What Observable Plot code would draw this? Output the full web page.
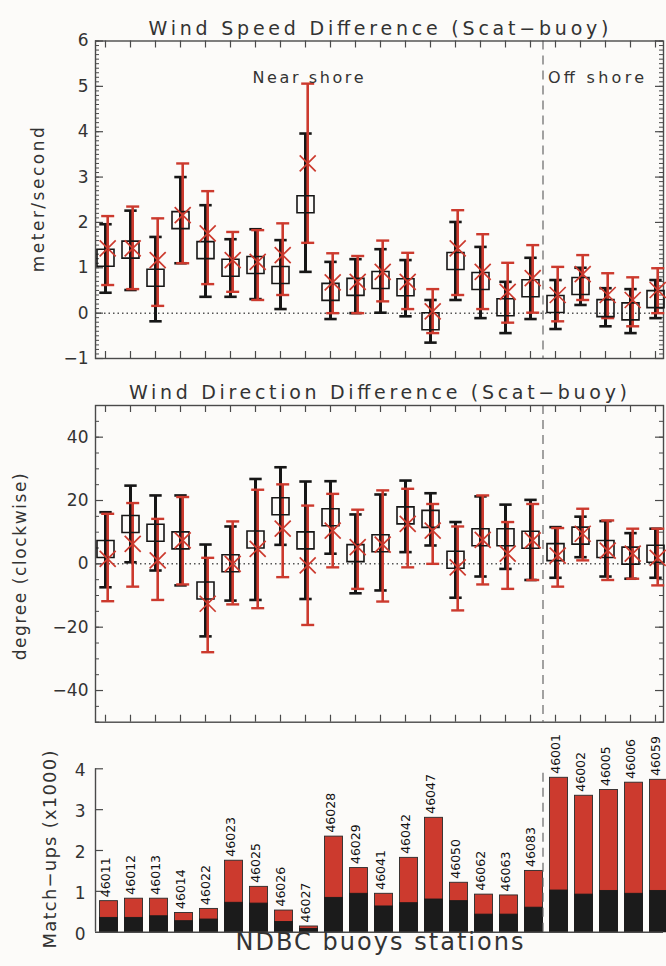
<!DOCTYPE html>
<html><head><meta charset="utf-8">
<script src="https://cdn.jsdelivr.net/npm/d3@7"></script>
<script src="https://cdn.jsdelivr.net/npm/@observablehq/plot@0.6"></script>
<style>
html,body{margin:0;padding:0;background:#fcfbf9;}
#chart svg{display:block;overflow:visible;}
</style></head><body><div id="chart"></div>
<script>
// ---------- data ----------
const stations = ["46011","46012","46013","46014","46022","46023","46025","46026","46027","46028","46029","46041","46042","46047","46050","46062","46063","46083","46001","46002","46005","46006","46059"];
const nearShoreCount = 18;

// Wind speed difference (m/s): black = squares, red = crosses
const speedBlackMean = [1.22,1.40,0.78,2.05,1.39,1.00,1.06,0.84,2.40,0.47,0.58,0.73,0.57,-0.18,1.15,0.71,0.13,0.55,0.20,0.60,0.11,0.04,0.31];
const speedBlackLow  = [0.45,0.51,-0.18,1.10,0.36,0.36,0.31,0.09,0.91,-0.13,0.00,0.01,-0.07,-0.65,0.29,-0.11,-0.44,-0.13,-0.35,0.18,-0.29,-0.44,-0.11];
const speedBlackHigh = [1.96,2.26,1.68,3.00,2.38,1.63,1.85,1.61,3.96,1.13,1.19,1.41,1.17,0.29,2.01,1.46,0.69,1.22,0.73,1.00,0.55,0.53,0.73];
const speedRedMean   = [1.43,1.43,1.17,2.16,1.76,1.17,1.13,1.28,3.30,0.68,0.69,0.91,0.69,0.04,1.43,0.91,0.47,0.77,0.40,0.86,0.40,0.29,0.51];
const speedRedLow    = [0.62,0.53,0.16,1.10,0.64,0.47,0.29,0.40,1.55,0.00,0.00,0.26,0.09,-0.44,0.40,0.09,-0.21,0.01,-0.18,0.29,-0.11,-0.29,0.00];
const speedRedHigh   = [2.14,2.35,2.09,3.30,2.69,1.79,1.83,1.98,5.06,1.32,1.26,1.60,1.33,0.53,2.27,1.74,1.11,1.50,1.02,1.28,0.88,0.79,0.99];

// Wind direction difference (degree, clockwise)
const dirBlackMean = [4.7,12.6,9.8,7.4,-8.4,0.2,7.7,18.2,7.4,14.7,3.4,6.5,15.3,14.2,1.3,8.4,8.4,7.6,3.7,8.9,4.7,2.6,3.2];
const dirBlackLow  = [-7.4,0.5,-2.1,-6.8,-22.9,-11.6,-11.4,6.0,-11.1,3.2,-9.3,-8.4,3.7,5.8,-10.7,-4.0,-1.6,-5.1,-4.4,2.1,-4.0,-4.7,-4.4];
const dirBlackHigh = [16.3,24.7,21.6,21.6,6.1,11.8,26.8,30.5,26.0,26.1,15.6,21.9,26.3,22.3,13.2,21.3,18.7,20.2,11.6,14.9,13.5,9.7,11.1];
const dirRedMean   = [1.6,6.3,1.1,7.4,-12.6,0.0,4.7,11.1,-0.5,10.5,5.3,6.1,12.6,10.5,-1.1,7.6,3.2,7.4,2.6,9.5,4.2,3.2,1.9];
const dirRedLow    = [-11.8,-7.2,-11.4,-6.5,-27.9,-12.8,-14.0,-4.2,-19.3,-1.1,-7.9,-11.9,-1.1,0.0,-14.7,-6.5,-7.9,-5.1,-7.2,1.1,-5.1,-4.7,-6.8];
const dirRedHigh   = [15.8,19.2,14.2,21.1,1.9,13.4,23.4,25.1,18.4,22.1,17.1,23.2,23.7,18.9,11.8,21.6,13.2,18.9,11.3,17.4,13.7,11.1,11.1];

// Match-ups (x1000): total (red) and black portion
const matchTotal = [0.76,0.82,0.82,0.47,0.57,1.75,1.11,0.53,0.14,2.34,1.57,0.94,1.82,2.80,1.21,0.92,0.90,1.50,3.78,3.34,3.48,3.66,3.73];
const matchBlack = [0.35,0.35,0.39,0.27,0.31,0.72,0.70,0.25,0.08,0.84,0.94,0.63,0.71,0.80,0.76,0.43,0.43,0.60,1.02,0.92,1.01,0.94,1.01];

const speedTicks = [-1,0,1,2,3,4,5,6];
const dirTicks = [-40,-20,0,20,40];
const matchTicks = [0,1,2,3,4];

// ---------- layout / style ----------
const W = 666, ML = 95, MR = 3, FW = W - ML - MR;
const xDomain = [-0.4, 22.32];
const FONT = "DejaVu Sans, Liberation Sans, sans-serif";
const RED = "#cc3a2e", BLK = "#161616", AX = "#4a4a4a", TXT = "#333";
const fmt = v => (v < 0 ? "\u2212" + Math.abs(v) : String(v));

// widths of the wide-spaced IDL-style labels, measured on the reference
const lengths = {
  "Wind Speed Difference (Scat\u2212buoy)": 460,
  "Wind Direction Difference (Scat\u2212buoy)": 498,
  "meter/second": 145,
  "degree (clockwise)": 187,
  "Match\u2212ups (x1000)": 198,
  "NDBC buoys stations": 288,
  "Near shore": 111,
  "Off shore": 96
};

const capSymbol = {draw(ctx, size){ const r = Math.sqrt(size/Math.PI); ctx.moveTo(-r,0); ctx.lineTo(r,0);} };
const squareSymbol = {draw(ctx, size){ const r = Math.sqrt(size/Math.PI); ctx.rect(-r,-r,2*r,2*r);} };
const crossSymbol = {draw(ctx, size){ const r = Math.sqrt(size/Math.PI); ctx.moveTo(-r,-r); ctx.lineTo(r,r); ctx.moveTo(-r,r); ctx.lineTo(r,-r);} };

// rotated label, laid out from its start so a stretched length stays centred
function vLabel(label, dx, dy, fontSize) {
  return Plot.text([label], {frameAnchor: "left", dx, dy: dy + lengths[label] / 2, rotate: -90, textAnchor: "start", fontSize, fill: TXT});
}

const idx = stations.map((s, i) => i);

function errorPanel(o) {
  const rows = idx.map(i => ({i, bm:o.bm[i], blo:o.blo[i], bhi:o.bhi[i], rm:o.rm[i], rlo:o.rlo[i], rhi:o.rhi[i]}));
  const FH = o.height - o.marginTop - o.marginBottom;
  const minor = d3.range(o.yDomain[0], o.yDomain[1] + 1e-9, o.minorStep).map(v => +v.toFixed(4));
  return Plot.plot({
    width: W, height: o.height, marginTop: o.marginTop, marginBottom: o.marginBottom,
    marginLeft: ML, marginRight: MR,
    style: {background: "transparent", fontFamily: FONT, overflow: "visible"},
    x: {domain: xDomain, axis: null},
    y: {domain: o.yDomain, axis: null},
    marks: [
      Plot.ruleY([0], {stroke: "#555", strokeWidth: 1.5, strokeDasharray: "1.5,3"}),
      Plot.ruleX([nearShoreCount - 0.5], {stroke: "#666", strokeWidth: 1.2, strokeDasharray: "9,6"}),
      // ticks
      Plot.ruleY(minor, {insetRight: FW - 4, stroke: AX, strokeWidth: 1}),
      Plot.ruleY(o.ticks, {insetRight: FW - 8, stroke: AX, strokeWidth: 1.2}),
      Plot.ruleY(minor, {insetLeft: FW - 4, stroke: AX, strokeWidth: 1}),
      Plot.ruleY(o.ticks, {insetLeft: FW - 8, stroke: AX, strokeWidth: 1.2}),
      Plot.ruleX(idx, {insetBottom: FH - 7, stroke: AX, strokeWidth: 1.2}),
      Plot.ruleX(idx, {insetTop: FH - 7, stroke: AX, strokeWidth: 1.2}),
      Plot.frame({stroke: AX, strokeWidth: 1.4}),
      // black error bars
      Plot.ruleX(rows, {x: "i", y1: "blo", y2: "bhi", stroke: BLK, strokeWidth: 3}),
      Plot.dot(rows, {x: "i", y: "bhi", symbol: capSymbol, r: 6.2, stroke: BLK, strokeWidth: 2.6, fill: "none"}),
      Plot.dot(rows, {x: "i", y: "blo", symbol: capSymbol, r: 6.2, stroke: BLK, strokeWidth: 2.6, fill: "none"}),
      // red error bars
      Plot.ruleX(rows, {x: "i", y1: "rlo", y2: "rhi", dx: 2.2, stroke: RED, strokeWidth: 2.6}),
      Plot.dot(rows, {x: "i", y: "rhi", dx: 2.2, symbol: capSymbol, r: 6.5, stroke: RED, strokeWidth: 2.4, fill: "none"}),
      Plot.dot(rows, {x: "i", y: "rlo", dx: 2.2, symbol: capSymbol, r: 6.5, stroke: RED, strokeWidth: 2.4, fill: "none"}),
      // markers
      Plot.dot(rows, {x: "i", y: "bm", symbol: squareSymbol, r: 8.5, stroke: BLK, strokeWidth: 1.6, fill: "none"}),
      Plot.dot(rows, {x: "i", y: "rm", dx: 2.2, symbol: crossSymbol, r: 8, stroke: RED, strokeWidth: 1.7, fill: "none"}),
      // tick labels
      Plot.text(o.ticks, {y: d => d, text: fmt, frameAnchor: "left", dx: -7, textAnchor: "end", fontSize: 17, fill: TXT}),
      // title & label
      Plot.text([o.title], {frameAnchor: "top", dx: o.titleDx, dy: o.titleDy, fontSize: 19, fill: TXT}),
      vLabel(o.ylabel, o.ylabelDx, o.ylabelDy, 17),
      ...(o.extra || [])
    ]
  });
}

const speedPanel = errorPanel({
  height: 370, marginTop: 40.5, marginBottom: 12, yDomain: [-1, 6], ticks: speedTicks, minorStep: 0.1,
  bm: speedBlackMean, blo: speedBlackLow, bhi: speedBlackHigh, rm: speedRedMean, rlo: speedRedLow, rhi: speedRedHigh,
  title: "Wind Speed Difference (Scat\u2212buoy)", titleDx: -1, titleDy: -20,
  ylabel: "meter/second", ylabelDx: -57, ylabelDy: 0,
  extra: [
    Plot.text(["Near shore"], {x: [8.1], frameAnchor: "top", dy: 30.5, fontSize: 16, fill: TXT}),
    Plot.text(["Off shore"], {x: [nearShoreCount - 0.5], frameAnchor: "top", dx: 5, dy: 30.5, textAnchor: "start", fontSize: 16, fill: TXT})
  ]
});

const dirPanel = errorPanel({
  height: 360, marginTop: 35, marginBottom: 8.3, yDomain: [-50, 50], ticks: dirTicks, minorStep: 5,
  bm: dirBlackMean, blo: dirBlackLow, bhi: dirBlackHigh, rm: dirRedMean, rlo: dirRedLow, rhi: dirRedHigh,
  title: "Wind Direction Difference (Scat\u2212buoy)", titleDx: -1.5, titleDy: -20,
  ylabel: "degree (clockwise)", ylabelDx: -75, ylabelDy: 3
});

const matchRows = idx.map(i => ({i, st: stations[i], total: matchTotal[i], black: matchBlack[i]}));
const matchPanel = Plot.plot({
  width: W, height: 236, marginTop: 38.3, marginBottom: 34.3, marginLeft: ML, marginRight: MR,
  style: {background: "transparent", fontFamily: FONT, overflow: "visible"},
  x: {domain: xDomain, axis: null},
  y: {domain: [0, 4], axis: null},
  marks: [
    Plot.rectY(matchRows, {x1: d => d.i - 0.22, x2: d => d.i + 0.5, y1: 0, y2: "total", fill: RED, stroke: "#2a2a2a", strokeWidth: 0.9}),
    Plot.rectY(matchRows, {x1: d => d.i - 0.22, x2: d => d.i + 0.5, y1: 0, y2: "black", fill: "#1b1b1b", stroke: "#1b1b1b", strokeWidth: 0.9}),
    Plot.ruleX([nearShoreCount - 0.5], {y1: 0, y2: 3.92, stroke: "#666", strokeWidth: 1.2, strokeDasharray: "9,6"}),
    Plot.ruleY([0], {stroke: AX, strokeWidth: 1.4}),
    Plot.ruleX([xDomain[0]], {y1: 0, y2: 4, stroke: AX, strokeWidth: 1.4}),
    Plot.ruleY(matchTicks.slice(1), {insetRight: FW - 8, stroke: AX, strokeWidth: 1.2}),
    Plot.text(matchTicks, {y: d => d, text: fmt, frameAnchor: "left", dx: -10, dy: 2, textAnchor: "end", fontSize: 17, fill: TXT}),
    Plot.text(matchRows, {x: "i", y: "total", text: "st", rotate: -90, textAnchor: "start", dy: -4, fontSize: 12.5, fill: "#111"}),
    vLabel("Match\u2212ups (x1000)", -45, -1, 18),
    Plot.text(["NDBC buoys stations"], {frameAnchor: "bottom", dx: 0, dy: 17.5, fontSize: 24, fill: TXT})
  ]
});

const chart = document.getElementById("chart");
[speedPanel, dirPanel, matchPanel].forEach(s => chart.appendChild(s));

d3.select(chart).selectAll("text").each(function() {
  const L = lengths[this.textContent];
  if (L) { this.setAttribute("textLength", L); this.setAttribute("lengthAdjust", "spacing"); }
});
</script></body></html>
